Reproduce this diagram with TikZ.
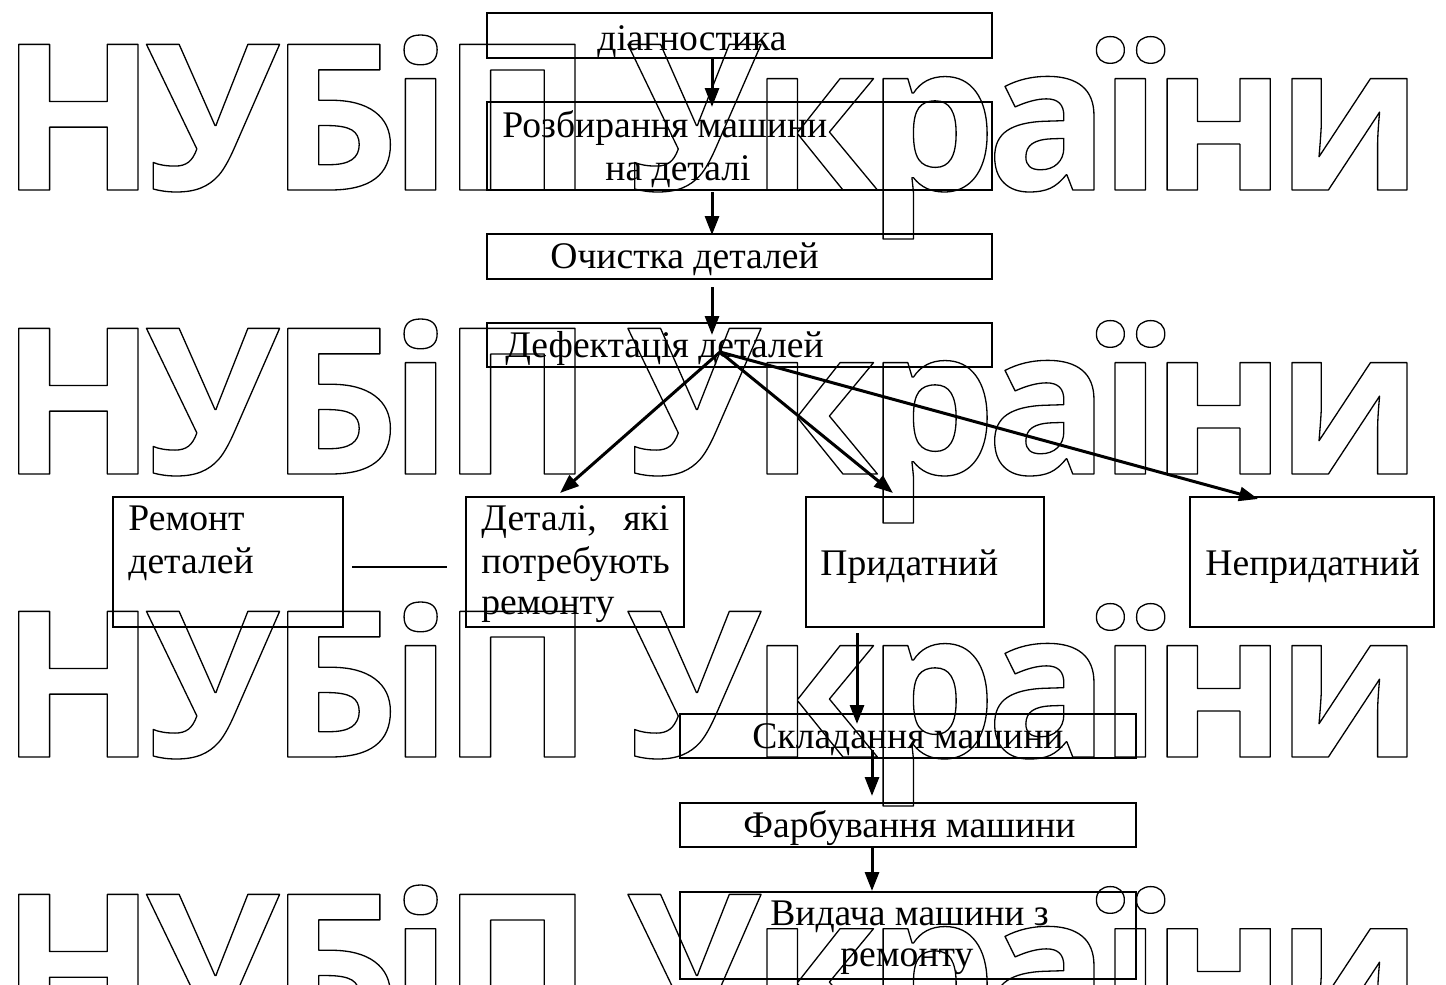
\documentclass[tikz,border=0pt]{standalone}
\usepackage{fontspec}
\setmainfont{Liberation Serif}
\newfontfamily\wmfont{Open Sans}[LetterSpace=-5]
\usetikzlibrary{arrows.meta}
\newcommand\outl[1]{\special{pdf:literal direct 1 Tr 0.65 w 1 j}#1\special{pdf:literal direct 0 Tr}}
\newcommand\wmtext{\outl{НУБіП\hspace{-4pt} України}}
\begin{document}
\begin{tikzpicture}[x=0.5pt,y=-0.5pt,
  box/.style={draw,line width=1pt,inner sep=0pt},
  txt/.style={inner sep=0pt,anchor=base west,font=\fontsize{18.8}{22}\selectfont},
  wm/.style={inner sep=0pt,anchor=base west,font=\wmfont\bfseries\fontsize{102}{102}\selectfont},
  arr/.style={line width=1.5pt,-{Triangle[length=9.5pt,width=7pt]}}]
\useasboundingbox (0,0) rectangle (1446,985);
% watermark
\begin{scope}
\node[wm] (w1) at (0,190) {\wmtext};
\node[wm] (w2) at (0,474) {\wmtext};
\node[wm] (w3) at (0,757) {\wmtext};
\node[wm] (w4) at (0,1040) {\wmtext};
\end{scope}
% boxes
\node[box,minimum width=252.5pt,minimum height=22.5pt] (A) at (739.5,35.5) {};
\node[box,minimum width=252.5pt,minimum height=44pt] (B) at (739.5,146) {};
\node[box,minimum width=252.5pt,minimum height=22.5pt] (C) at (739.5,256.5) {};
\node[box,minimum width=252.5pt,minimum height=22pt] (D) at (739.5,345) {};
\node[box,minimum width=115pt,minimum height=65pt] (R) at (228,562) {};
\node[box,minimum width=109pt,minimum height=65pt] (P) at (575,562) {};
\node[box,minimum width=119pt,minimum height=65pt] (G) at (925,562) {};
\node[box,minimum width=122pt,minimum height=65pt] (N) at (1312,562) {};
\node[box,minimum width=228pt,minimum height=22pt] (S) at (908,736) {};
\node[box,minimum width=228pt,minimum height=22pt] (F) at (908,825) {};
\node[box,minimum width=228pt,minimum height=43.5pt] (V) at (908,935.5) {};
% texts
\node[txt] (tA) at (597,50) {діагностика};
\node[txt] (tB1) at (502,137) {Розбирання машини};
\node[txt] (tB2) at (605,180) {на деталі};
\node[txt] (tC) at (550,268) {Очистка деталей};
\node[txt] (tD) at (505,357) {Дефектація деталей};
\node[txt] (tR1) at (128,530) {Ремонт};
\node[txt] (tR2) at (128,573) {деталей};
\node[txt] (tP1) at (481,530) {\makebox[94pt][s]{Деталі,\hfill які}};
\node[txt] (tP2) at (481,573) {потребують};
\node[txt] (tP3) at (481,614) {ремонту};
\node[txt] (tG) at (820,575) {Придатний};
\node[txt] (tN) at (1205,575) {Непридатний};
\node[txt] (tS) at (752,748) {Складання машини};
\node[txt] (tF) at (743,837) {Фарбування машини};
\node[txt] (tV1) at (770,925) {Видача машини з};
\node[txt] (tV2) at (840,966) {ремонту};
% connector points
\coordinate (e1) at (712,107);
\coordinate (s2) at (712,192);
\coordinate (e2) at (712,235);
\coordinate (s3) at (712,287);
\coordinate (e3) at (712,335);
\coordinate (hub) at (720,352);
\coordinate (eP) at (560,493);
\coordinate (eG) at (893,493);
\coordinate (eN) at (1258,499);
\coordinate (s4) at (857,633);
\coordinate (e4) at (857,724);
\coordinate (s5) at (872,750);
\coordinate (e5) at (872,796);
\coordinate (s6) at (872,848);
\coordinate (e6) at (872,891);
\coordinate (l1) at (352,567);
\coordinate (l2) at (447,567);
% arrows
\draw[arr] (A.south -| e1) -- (e1);
\draw[arr] (s2) -- (e2);
\draw[arr] (s3) -- (e3);
\draw[arr] (hub) -- (eP);
\draw[arr] (hub) -- (eG);
\draw[arr] (hub) -- (eN);
\draw[arr] (s4) -- (e4);
\draw[arr] (s5) -- (e5);
\draw[arr] (s6) -- (e6);
\draw[line width=1pt] (l1) -- (l2);
\end{tikzpicture}
\end{document}
